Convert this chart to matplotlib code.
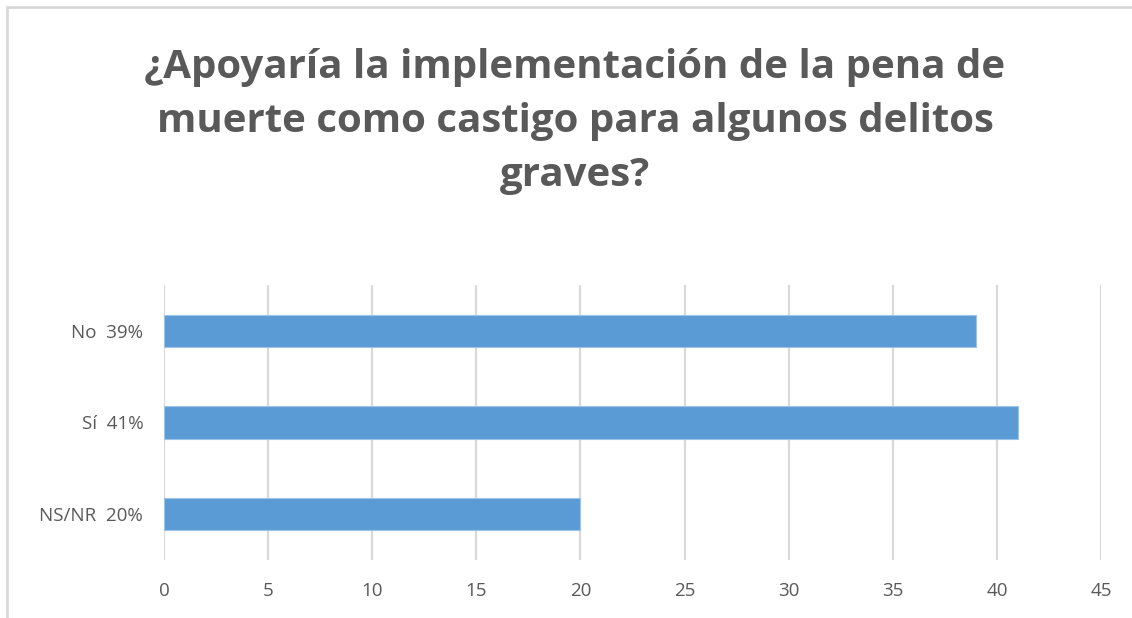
import matplotlib.pyplot as plt
from matplotlib.patches import Rectangle

# Survey answers (bottom to top as drawn)
categories = ['NS/NR  20%', 'Sí  41%', 'No  39%']
values = [20, 41, 39]
x_ticks = [0, 5, 10, 15, 20, 25, 30, 35, 40, 45]

title = '¿Apoyaría la implementación de la pena de\nmuerte como castigo para algunos delitos\ngraves?'

plt.rcParams['font.family'] = ['Open Sans', 'DejaVu Sans']
text_col = '#595959'
grid_col = '#D9D9D9'

fig = plt.figure(figsize=(11.32, 6.18), dpi=100)
ax = fig.add_axes([0.1449, 0.0939, 0.9726 - 0.1449, 0.5388 - 0.0939])

ax.barh(range(len(categories)), values, height=0.35, color='#5B9BD5',
        edgecolor='#9DC3E6', linewidth=0.8, zorder=3)

ax.set_xlim(0, 45)
ax.set_ylim(-0.5, len(categories) - 0.5)
ax.set_xticks(x_ticks)
ax.set_yticks(range(len(categories)))
ax.set_yticklabels(categories)
ax.xaxis.grid(True, color=grid_col, linewidth=1.6, zorder=0)
ax.set_axisbelow(True)
for s in ax.spines.values():
    s.set_visible(False)
ax.tick_params(axis='both', length=0, labelsize=13.5, colors=text_col)
ax.tick_params(axis='y', pad=15)
ax.tick_params(axis='x', pad=16)

# chart border (only top and left visible in the reference crop)
fig.patches.append(Rectangle((7 / 1132, -0.05), 1.2, 1 - 7 / 618 + 0.05,
                             transform=fig.transFigure, fill=False,
                             edgecolor='#D9D9D9', linewidth=2))

fig.text(0.508, 0.803, title, ha='center', va='center', fontsize=29,
         fontweight='bold', color=text_col, linespacing=1.5)

fig.savefig('out.png', dpi=100)
